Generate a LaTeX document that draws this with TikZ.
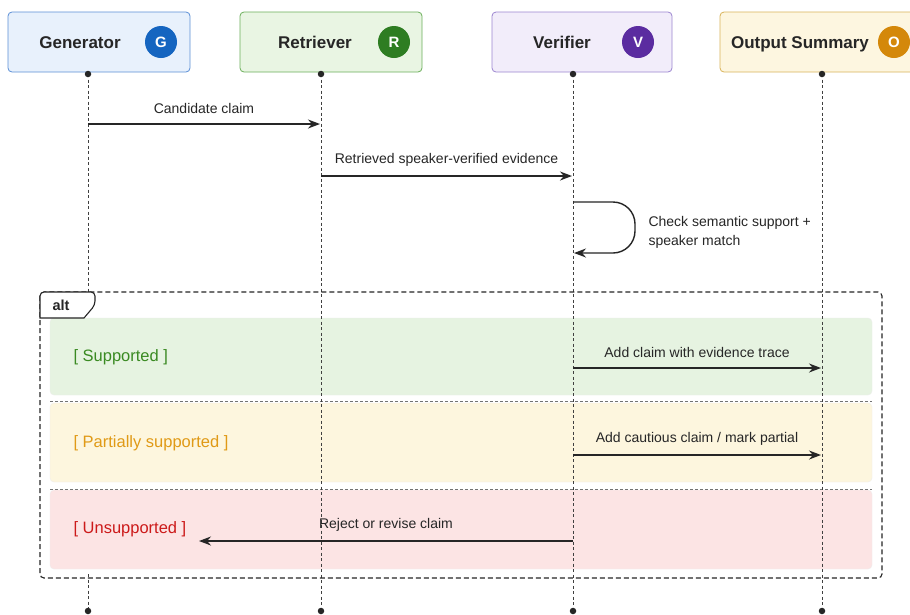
\documentclass[tikz,border=0pt]{standalone}
\usepackage{fontspec}
\setmainfont{Liberation Sans}
\usetikzlibrary{arrows.meta}

\definecolor{genfill}{HTML}{E8F1FC}
\definecolor{gendraw}{HTML}{5B8FD6}
\definecolor{genbadge}{HTML}{1565C0}
\definecolor{retfill}{HTML}{E9F5E3}
\definecolor{retdraw}{HTML}{6BAF5A}
\definecolor{retbadge}{HTML}{2E7D22}
\definecolor{verfill}{HTML}{F2EDFA}
\definecolor{verdraw}{HTML}{9C86D0}
\definecolor{verbadge}{HTML}{5B2CA0}
\definecolor{outfill}{HTML}{FDF6E0}
\definecolor{outdraw}{HTML}{D9B45A}
\definecolor{outbadge}{HTML}{D4880A}
\definecolor{supfill}{HTML}{E6F3E1}
\definecolor{partfill}{HTML}{FDF6DE}
\definecolor{unsfill}{HTML}{FCE4E4}
\definecolor{suptext}{HTML}{3A8A22}
\definecolor{parttext}{HTML}{E09A16}
\definecolor{unstext}{HTML}{CC1A1A}

\tikzset{
  header/.style={draw, rounded corners=4pt, line width=0.8pt, minimum height=60pt, inner sep=0pt},
  badge/.style={circle, minimum size=32pt, inner sep=0pt, text=white,
    font=\fontsize{15}{15}\selectfont\bfseries},
  headtext/.style={anchor=base, font=\fontsize{17}{17}\selectfont\bfseries, text=black!85},
  lifeline/.style={dash pattern=on 3pt off 2.5pt, line width=0.9pt, black!75},
  lifedot/.style={circle, fill=black!85, minimum size=6.5pt, inner sep=0pt},
  msg/.style={line width=1.4pt, black!85, -{Stealth[length=12pt,width=9pt]}},
  msglabel/.style={font=\fontsize{14}{19}\selectfont, text=black!85},
  guard/.style={font=\fontsize{16.5}{16}\selectfont, anchor=west},
  section/.style={rounded corners=4pt, fill=#1, draw=#1!70!black!20}
}

\begin{document}
\begin{tikzpicture}[x=1pt, y=-1pt]
  \useasboundingbox[fill=white] (0,0) rectangle (910,614);

  % participants
  \node[header, fill=genfill, draw=gendraw, minimum width=182pt] (gen) at (99,42) {};
  \node[headtext] (gen-t) at (80,48) {Generator};
  \node[badge, fill=genbadge] (gen-b) at (161,42) {G};

  \node[header, fill=retfill, draw=retdraw, minimum width=182pt] (ret) at (331,42) {};
  \node[headtext] (ret-t) at (315,48) {Retriever};
  \node[badge, fill=retbadge] (ret-b) at (394,42) {R};

  \node[header, fill=verfill, draw=verdraw, minimum width=180pt] (ver) at (582,42) {};
  \node[headtext] (ver-t) at (562,48) {Verifier};
  \node[badge, fill=verbadge] (ver-b) at (638,42) {V};

  \node[header, fill=outfill, draw=outdraw, minimum width=196pt] (out) at (818,42) {};
  \node[headtext] (out-t) at (800,48) {Output Summary};
  \node[badge, fill=outbadge] (out-b) at (894,42) {O};

  % alt sections
  \draw[section=supfill] (50,318) rectangle (872,395);
  \draw[section=partfill] (50,403) rectangle (872,482);
  \draw[section=unsfill] (50,490) rectangle (872,569);
  \draw[dash pattern=on 3pt off 2pt, black!55, line width=0.7pt] (50,401) -- (872,401);
  \draw[dash pattern=on 3pt off 2pt, black!55, line width=0.7pt] (50,489) -- (872,489);
  \node[guard, text=suptext] (sup) at (70,357) {[ Supported ]};
  \node[guard, text=parttext] (part) at (70,443) {[ Partially supported ]};
  \node[guard, text=unstext] (unsup) at (70,529) {[ Unsupported ]};

  % lifelines
  \coordinate (gen-top) at (88,74);
  \coordinate (ret-top) at (321,74);
  \coordinate (ver-top) at (573,74);
  \coordinate (out-top) at (822,74);
  \coordinate (gen-bot) at (88,611);
  \coordinate (ret-bot) at (321,611);
  \coordinate (ver-bot) at (573,611);
  \coordinate (out-bot) at (822,611);
  \draw[lifeline] (gen-top) -- (88,292);
  \draw[lifeline] (88,574) -- (gen-bot);
  \draw[lifeline] (ret-top) -- (ret-bot);
  \draw[lifeline] (ver-top) -- (ver-bot);
  \draw[lifeline] (out-top) -- (out-bot);
  \foreach \p in {gen,ret,ver,out} {
    \node[lifedot] at (\p-top) {};
    \node[lifedot] at (\p-bot) {};
  }

  % messages
  \coordinate (m1-from) at (88,124);
  \coordinate (m1-to) at (320,124);
  \draw[msg] (m1-from) -- node[msglabel, above=6pt] {Candidate claim} (m1-to);

  \coordinate (m2-from) at (321,176);
  \coordinate (m2-to) at (572,176);
  \draw[msg] (m2-from) -- node[msglabel, above=6pt] {Retrieved speaker-verified evidence} (m2-to);

  \coordinate (self-from) at (573,202);
  \coordinate (self-to) at (574,253);
  \draw[msg, rounded corners=22pt] (self-from) -- (635,202) -- (635,253) -- (self-to);
  \node[msglabel, anchor=west, align=left] (self-l) at (645,232)
    {Check semantic support +\\speaker match};

  \coordinate (m3-from) at (573,368);
  \coordinate (m3-to) at (821,368);
  \draw[msg] (m3-from) -- node[msglabel, above=6pt] {Add claim with evidence trace} (m3-to);

  \coordinate (m4-from) at (573,455);
  \coordinate (m4-to) at (821,455);
  \draw[msg] (m4-from) -- node[msglabel, above=6pt] {Add cautious claim / mark partial} (m4-to);

  \coordinate (m5-from) at (573,541);
  \coordinate (m5-to) at (199,541);
  \draw[msg] (m5-from) -- node[msglabel, above=6pt] {Reject or revise claim} (m5-to);

  % alt frame
  \draw[line width=1.1pt, dash pattern=on 5pt off 3pt, black!85, rounded corners=4pt]
    (40,292) rectangle (882,578);
  \draw[fill=white, draw=black!85, line width=1.1pt, rounded corners=4pt]
    (40,318) -- (40,292) -- (95,292) -- (95,305) [sharp corners] -- (84,318) -- cycle;
  \node[font=\fontsize{14.5}{14}\selectfont\bfseries, text=black!85] (alt) at (61,305) {alt};
\end{tikzpicture}
\end{document}
